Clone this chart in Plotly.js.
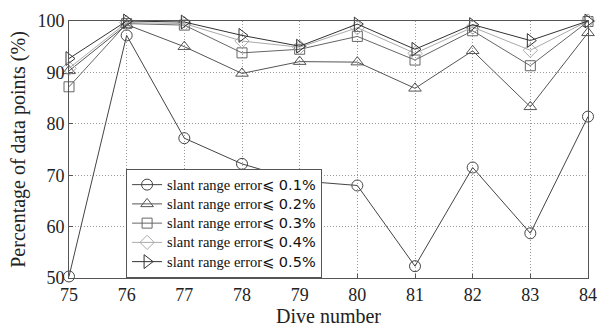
<!DOCTYPE html>
<html><head><meta charset="utf-8">
<script src="https://cdn.plot.ly/plotly-3.0.1.min.js"></script>
<style>html,body{margin:0;padding:0;background:#fff}</style>
</head><body>
<div id="chart" style="width:599px;height:328px"></div>
<script>
const dives = [75, 76, 77, 78, 79, 80, 81, 82, 83, 84];
const err01 = [50.3, 97.2, 77.2, 72.2, 68.9, 68.0, 52.3, 71.5, 58.7, 81.4];
const err02 = [90.3, 99.3, 95.0, 89.8, 92.1, 92.0, 86.9, 94.2, 83.3, 97.7];
const err03 = [87.2, 99.5, 99.2, 93.8, 94.5, 97.0, 92.4, 98.1, 91.3, 99.9];
const err04 = [90.8, 99.7, 99.5, 96.1, 94.9, 98.7, 93.7, 98.8, 94.3, 100];
const err05 = [92.7, 100, 99.8, 97.2, 95.1, 99.4, 94.5, 99.3, 96.2, 100];
const labels = ['0.1%', '0.2%', '0.3%', '0.4%', '0.5%'];

const series = [err01, err02, err03, err04, err05];
const symbols = ['circle-open', 'triangle-up-open', 'square-open', 'diamond-open', 'triangle-right-open'];
const colors = ['#444444', '#555555', '#666666', '#aaaaaa', '#333333'];
const sizes = [11, 11, 10, 11, 12];

const serif = "font-family:'Liberation Serif','Times New Roman',serif;font-size:14.5px";
const sans = "font-family:'DejaVu Sans',sans-serif;font-size:14.5px";

const traces = series.map((ys, i) => ({
  x: dives, y: ys, type: 'scatter', mode: 'lines+markers',
  name: '<span style="' + serif + '">slant range error</span><span style="' + sans + '">⩽ ' + labels[i] + '</span>',
  line: {color: colors[i], width: 1},
  marker: {symbol: symbols[i], size: sizes[i], color: colors[i], line: {width: 1, color: colors[i]}},
  cliponaxis: false
}));

const SERIF = '"Liberation Serif", "Times New Roman", serif';

const layout = {
  width: 599, height: 328,
  margin: {l: 69, r: 11, t: 21, b: 50},
  paper_bgcolor: '#fff', plot_bgcolor: '#fff',
  font: {family: SERIF, color: '#222', size: 18},
  showlegend: true,
  legend: {x: 0.11, y: 0, xanchor: 'left', yanchor: 'bottom', bgcolor: '#fff',
    bordercolor: '#555', borderwidth: 1, font: {size: 12.5, family: SERIF, color: '#111'},
    tracegroupgap: 0, itemwidth: 30},
  xaxis: {range: [75, 84], tickvals: dives, ticktext: dives.map(String),
    showgrid: true, gridcolor: '#999', griddash: '1px,2px', gridwidth: 1,
    showline: true, linecolor: '#555', linewidth: 1, mirror: true,
    ticks: 'inside', ticklen: 4, tickcolor: '#555', zeroline: false,
    tickfont: {size: 18, family: SERIF},
    title: {text: 'Dive number', font: {size: 20, family: SERIF}, standoff: 2}},
  yaxis: {range: [50, 100], tickvals: [50, 60, 70, 80, 90, 100],
    showgrid: true, gridcolor: '#999', griddash: '1px,2px', gridwidth: 1,
    showline: true, linecolor: '#555', linewidth: 1, mirror: true,
    ticks: 'inside', ticklen: 4, tickcolor: '#555', zeroline: false,
    tickfont: {size: 18, family: SERIF},
    title: {text: 'Percentage of data points (%)', font: {size: 20, family: SERIF}, standoff: 6}}
};

Plotly.newPlot('chart', traces, layout, {displayModeBar: false, staticPlot: true});
</script>
</body></html>
